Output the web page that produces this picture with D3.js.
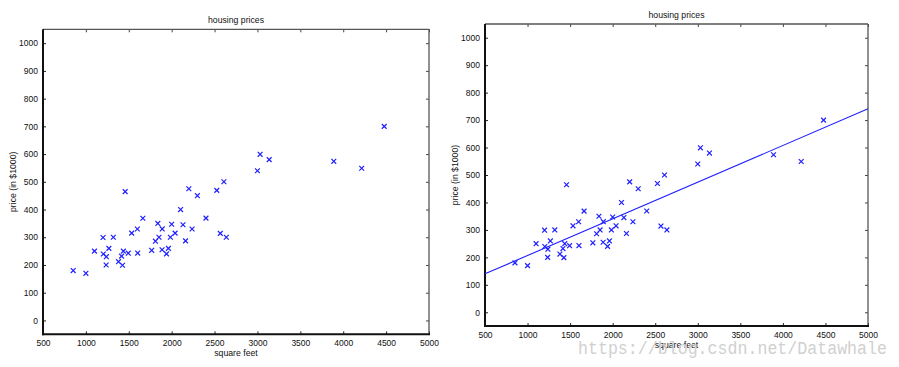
<!DOCTYPE html>
<html>
<head>
<meta charset="utf-8">
<script src="https://cdn.jsdelivr.net/npm/d3@7"></script>
<style>
  html, body { margin: 0; padding: 0; background: #fff; }
  svg { display: block; }
</style>
</head>
<body>
<svg id="chart" width="899" height="367"></svg>
<script>
// ---- data (square feet, price in $1000) ----
const sqft = [2104, 1600, 2400, 1416, 3000, 1985, 1534, 1427, 1380, 1494, 1940, 2000, 1890, 4478, 1268, 2300,
  1320, 1236, 2609, 3031, 1767, 1888, 1604, 1962, 3890, 1100, 1458, 2526, 2200, 2637, 1839, 1000,
  2040, 3137, 1811, 1437, 1239, 2132, 4215, 2162, 1664, 2238, 2567, 1200, 852, 1852, 1203];
const price = [399.9, 329.9, 369.0, 232.0, 539.9, 299.9, 314.9, 199.0, 212.0, 242.5, 240.0, 347.0, 330.0, 699.9, 259.9, 449.9,
  299.9, 199.9, 500.0, 599.0, 252.9, 255.0, 242.9, 259.9, 573.9, 249.9, 464.5, 469.0, 475.0, 299.9, 349.9, 169.9,
  314.9, 579.9, 285.9, 249.9, 229.9, 345.0, 549.0, 287.0, 368.5, 329.9, 314.0, 299.0, 179.9, 299.9, 239.5];
const fitX = [500, 5000];
const fitY = [140, 741];
const xTicks = [500, 1000, 1500, 2000, 2500, 3000, 3500, 4000, 4500, 5000];
const yTicks = [0, 100, 200, 300, 400, 500, 600, 700, 800, 900, 1000];
const titleText = "housing prices";
const xLabelText = "square feet";
const yLabelText = "price (in $1000)";
const watermarkText = "https://blog.csdn.net/Datawhale";

const svg = d3.select("#chart");
const BLUE = "#1f1fff";
const FONT = "'Liberation Sans', Arial, sans-serif";

function drawChart(box, withFit) {
  const g = svg.append("g");
  const x = d3.scaleLinear().domain([500, 5000]).range([box.x0, box.x1]);
  const y = d3.scaleLinear().domain([-50, 1050]).range([box.y1, box.y0]);
  const fmt = d3.format("d");

  const tl = 3;
  const fs = 8.5;
  const styleText = a => a.selectAll("text").style("font-size", fs + "px").style("font-family", FONT).attr("fill", "#111");
  g.append("g").attr("transform", `translate(0,${box.y1})`)
    .call(d3.axisBottom(x).tickValues(xTicks).tickFormat(fmt).tickSizeInner(-tl).tickSizeOuter(0).tickPadding(6))
    .call(a => a.select(".domain").remove())
    .call(styleText)
    .call(a => a.selectAll("line").attr("stroke", "#222"));
  g.append("g").attr("transform", `translate(0,${box.y0})`)
    .call(d3.axisTop(x).tickValues(xTicks).tickSizeInner(-tl).tickSizeOuter(0).tickFormat(""))
    .call(a => a.select(".domain").remove())
    .call(a => a.selectAll("line").attr("stroke", "#444"));
  g.append("g").attr("transform", `translate(${box.x0},0)`)
    .call(d3.axisLeft(y).tickValues(yTicks).tickFormat(fmt).tickSizeInner(-tl).tickSizeOuter(0).tickPadding(5))
    .call(a => a.select(".domain").remove())
    .call(styleText)
    .call(a => a.selectAll("line").attr("stroke", "#222"));
  g.append("g").attr("transform", `translate(${box.x1},0)`)
    .call(d3.axisRight(y).tickValues(yTicks).tickSizeInner(-tl).tickSizeOuter(0).tickFormat(""))
    .call(a => a.select(".domain").remove())
    .call(a => a.selectAll("line").attr("stroke", "#444"));

  // box
  g.append("line").attr("x1", box.x0).attr("x2", box.x1).attr("y1", box.y0).attr("y2", box.y0)
    .attr("stroke", "#555").attr("stroke-width", 1.3);
  g.append("line").attr("x1", box.x1).attr("x2", box.x1).attr("y1", box.y0).attr("y2", box.y1)
    .attr("stroke", "#555").attr("stroke-width", 1.3);
  g.append("line").attr("x1", box.x0).attr("x2", box.x0).attr("y1", box.y0).attr("y2", box.y1 + 1)
    .attr("stroke", "#111").attr("stroke-width", 2);
  g.append("line").attr("x1", box.x0 - 1).attr("x2", box.x1 + 1).attr("y1", box.y1).attr("y2", box.y1)
    .attr("stroke", "#111").attr("stroke-width", 2);

  if (withFit) {
    const line = d3.line().x(d => x(d[0])).y(d => y(d[1]));
    g.append("path").datum(fitX.map((v, i) => [v, fitY[i]]))
      .attr("d", line).attr("fill", "none").attr("stroke", BLUE).attr("stroke-width", 1.1);
  }

  const s = 2.4;
  const pts = g.append("g").attr("stroke", BLUE).attr("stroke-width", 1.2);
  sqft.forEach((v, i) => {
    const cx = x(v), cy = y(price[i]);
    pts.append("path").attr("d", `M${cx - s},${cy - s}L${cx + s},${cy + s}M${cx - s},${cy + s}L${cx + s},${cy - s}`);
  });

  const lab = sel => sel.style("font-family", FONT).style("font-size", "8.7px").attr("fill", "#111").attr("text-anchor", "middle");
  g.append("text").attr("x", (box.x0 + box.x1) / 2).attr("y", box.titleY).call(lab).text(titleText);
  g.append("text").attr("x", (box.x0 + box.x1) / 2).attr("y", box.xlabY).call(lab).text(xLabelText);
  g.append("text").attr("transform", `translate(${box.ylabX},${(box.y0 + box.y1) / 2}) rotate(-90)`)
    .call(lab).text(yLabelText);
}

drawChart({ x0: 43, x1: 429, y0: 29.3, y1: 334.3, titleY: 23, xlabY: 356, ylabX: 16 }, false);
drawChart({ x0: 485, x1: 868, y0: 24, y1: 326, titleY: 18, xlabY: 348, ylabX: 458 }, true);

svg.append("text").attr("x", 578).attr("y", 354)
  .style("font-family", "'Liberation Mono', 'DejaVu Sans Mono', monospace")
  .style("font-size", "19px").attr("textLength", 309).attr("lengthAdjust", "spacingAndGlyphs")
  .attr("fill", "#d0d0d0").text(watermarkText);
</script>
</body>
</html>
